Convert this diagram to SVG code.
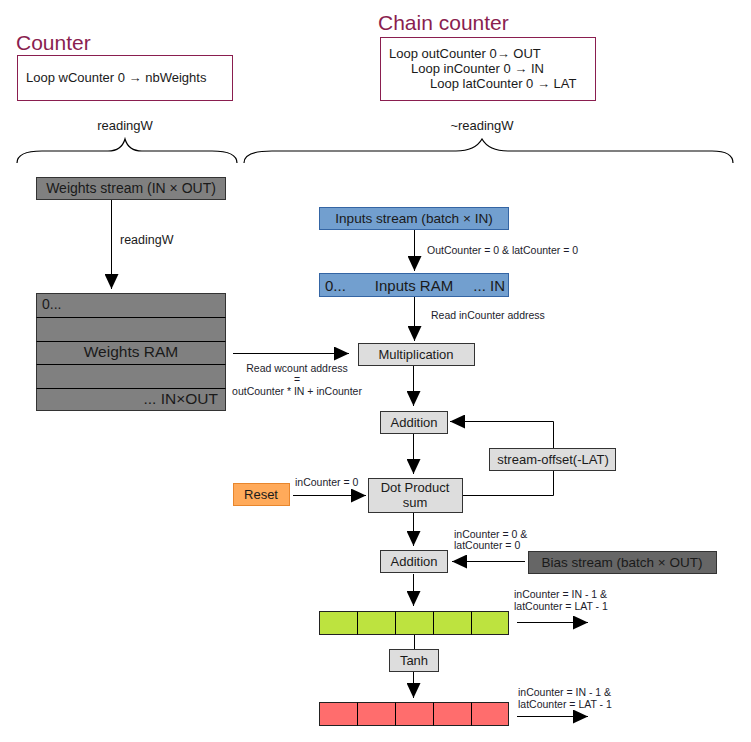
<svg xmlns="http://www.w3.org/2000/svg" width="751" height="742" viewBox="0 0 751 742">
<defs>
<marker id="ah" markerUnits="userSpaceOnUse" markerWidth="16" markerHeight="14" refX="15" refY="7" orient="auto">
<path d="M0,0 L15,7 L0,14 Z" fill="#000"/>
</marker>
<style>
text{font-family:"Liberation Sans",Arial,sans-serif;fill:#1a1a1a}
.title{font-size:21px;fill:#8a1e4f}
.cbox{fill:#fff;stroke:#8a1e4f;stroke-width:1}
.lbl{font-size:13px}
.sm{font-size:10.5px;fill:#1c1c2c}
.gray{fill:#808080;stroke:#333;stroke-width:1}
.blue{fill:#729fcf;stroke:#3465a4;stroke-width:1}
.op{fill:#dddddd;stroke:#333;stroke-width:1}
.ln{stroke:#000;stroke-width:1;fill:none}
.arr{stroke:#000;stroke-width:1;fill:none;marker-end:url(#ah)}
.brace{stroke:#000;stroke-width:1.2;fill:none}
.mid{text-anchor:middle}
</style>
</defs>

<g id="counter">
<text class="title" x="16" y="50">Counter</text>
<rect class="cbox" x="17.5" y="55.5" width="215" height="45"/>
<text class="lbl" x="26" y="82">Loop wCounter 0 → nbWeights</text>
</g>

<g id="chain-counter">
<text class="title" x="378" y="30">Chain counter</text>
<rect class="cbox" x="380.5" y="37.5" width="215" height="63"/>
<text class="lbl" x="389" y="58">Loop outCounter 0→ OUT</text>
<text class="lbl" x="411" y="73">Loop inCounter 0 → IN</text>
<text class="lbl" x="430" y="88">Loop latCounter 0 → LAT</text>
</g>

<g id="brace-left">
<text class="lbl mid" x="125" y="130">readingW</text>
<path class="brace" d="M17,163 C17,155 25,151 42,151 L108,151 C118,151 123,146 125,139 C127,146 132,151 142,151 L212,151 C229,151 237,155 237,163"/>
</g>

<g id="brace-right">
<text class="lbl mid" x="482" y="130">~readingW</text>
<path class="brace" d="M244,163 C244,155 254,151 272,151 L456,151 C470,151 478,146 482,139 C486,146 494,151 508,151 L712,151 C726,151 733,155 733,163"/>
</g>

<g id="weights-stream">
<rect class="gray" x="36.5" y="177.5" width="189" height="22"/>
<text class="mid" x="131" y="193" style="font-size:14px">Weights stream (IN × OUT)</text>
</g>

<g id="weights-ram">
<rect class="gray" x="36.5" y="293.5" width="189" height="117"/>
<path class="ln" d="M36.5,317.5 H225.5 M36.5,341.5 H225.5 M36.5,364.5 H225.5 M36.5,388.5 H225.5" stroke="#333"/>
<text x="42" y="309" style="font-size:14px">0...</text>
<text class="mid" x="131" y="357" style="font-size:15.5px">Weights RAM</text>
<text x="218" y="404" style="font-size:15.5px;text-anchor:end">... IN×OUT</text>
</g>

<g id="inputs-stream">
<rect class="blue" x="319.5" y="207.5" width="189" height="22"/>
<text class="mid" x="414" y="223" style="font-size:13.6px">Inputs stream (batch × IN)</text>
</g>

<g id="inputs-ram">
<rect class="blue" x="319.5" y="273.5" width="189" height="23"/>
<text x="325" y="291" style="font-size:15px">0...</text>
<text class="mid" x="414" y="291" style="font-size:15px">Inputs RAM</text>
<text x="505" y="291" style="font-size:15px;text-anchor:end">... IN</text>
</g>

<g id="multiplication">
<rect class="op" x="358.5" y="343.5" width="116" height="22"/>
<text class="lbl mid" x="416" y="359">Multiplication</text>
</g>

<g id="addition1">
<rect class="op" x="380.5" y="411.5" width="67" height="22"/>
<text class="lbl mid" x="414" y="427">Addition</text>
</g>

<g id="stream-offset">
<rect class="op" x="489.5" y="448.5" width="126" height="22"/>
<text class="lbl mid" x="553" y="464">stream-offset(-LAT)</text>
</g>

<g id="dot-product">
<rect class="op" x="368.5" y="478.5" width="94" height="34"/>
<text class="lbl mid" x="415" y="492">Dot Product</text>
<text class="lbl mid" x="415" y="507">sum</text>
</g>

<g id="reset">
<rect x="233.5" y="483.5" width="56" height="22" fill="#ffaa5a" stroke="#e8862c"/>
<text class="lbl mid" x="261" y="499">Reset</text>
</g>

<g id="addition2">
<rect class="op" x="380.5" y="550.5" width="67" height="22"/>
<text class="lbl mid" x="414" y="566">Addition</text>
</g>

<g id="bias-stream">
<rect x="528.5" y="551.5" width="188" height="22" fill="#666666" stroke="#333"/>
<text class="mid" x="622" y="567" style="font-size:13.5px">Bias stream (batch × OUT)</text>
</g>

<g id="green-buffer">
<rect x="319.5" y="611.5" width="189" height="23" fill="#bde33f" stroke="#222"/>
<path class="ln" d="M357.5,611.5 V634.5 M395.5,611.5 V634.5 M433.5,611.5 V634.5 M471.5,611.5 V634.5" stroke="#222"/>
</g>

<g id="tanh">
<rect class="op" x="389.5" y="649.5" width="49" height="22"/>
<text class="lbl mid" x="414" y="665">Tanh</text>
</g>

<g id="red-buffer">
<rect x="319.5" y="702.5" width="189" height="23" fill="#ff6d6d" stroke="#222"/>
<path class="ln" d="M357.5,702.5 V725.5 M395.5,702.5 V725.5 M433.5,702.5 V725.5 M471.5,702.5 V725.5" stroke="#222"/>
</g>

<g id="connectors">
<line class="arr" x1="111.5" y1="200" x2="111.5" y2="289"/>
<text class="lbl" x="120" y="244" style="font-size:12.5px">readingW</text>

<line class="arr" x1="414.5" y1="230" x2="414.5" y2="271"/>
<text class="sm" x="427" y="254">OutCounter = 0 &amp; latCounter = 0</text>

<line class="arr" x1="414.5" y1="297" x2="414.5" y2="341"/>
<text class="sm" x="431" y="319">Read inCounter address</text>

<line class="arr" x1="233" y1="353.5" x2="349" y2="353.5"/>
<text class="sm mid" x="297" y="372">Read wcount address</text>
<text class="sm mid" x="297" y="383">=</text>
<text class="sm mid" x="297" y="395">outCounter * IN + inCounter</text>

<line class="arr" x1="413.5" y1="366" x2="413.5" y2="406"/>
<line class="arr" x1="413.5" y1="434" x2="413.5" y2="474"/>

<path class="ln" d="M463,495.5 H553.5 V471"/>
<path class="arr" d="M553.5,448 V421.5 H450"/>

<line class="arr" x1="293" y1="495.5" x2="366" y2="495.5"/>
<text class="sm" x="295" y="486">inCounter = 0</text>

<line class="arr" x1="413.5" y1="513" x2="413.5" y2="546"/>
<line class="arr" x1="525" y1="561.5" x2="452" y2="561.5"/>
<text class="sm" x="454" y="538">inCounter = 0 &amp;</text>
<text class="sm" x="454" y="549">latCounter = 0</text>

<line class="arr" x1="413.5" y1="574" x2="413.5" y2="606"/>
<line class="arr" x1="517" y1="622.5" x2="588" y2="622.5"/>
<text class="sm" x="514" y="598">inCounter = IN - 1 &amp;</text>
<text class="sm" x="514" y="610">latCounter = LAT - 1</text>

<line class="ln" x1="414.5" y1="635" x2="414.5" y2="649"/>
<line class="arr" x1="413.5" y1="672" x2="413.5" y2="698"/>
<line class="arr" x1="517" y1="716.5" x2="588" y2="716.5"/>
<text class="sm" x="518" y="696">inCounter = IN - 1 &amp;</text>
<text class="sm" x="518" y="708">latCounter = LAT - 1</text>
</g>
</svg>
